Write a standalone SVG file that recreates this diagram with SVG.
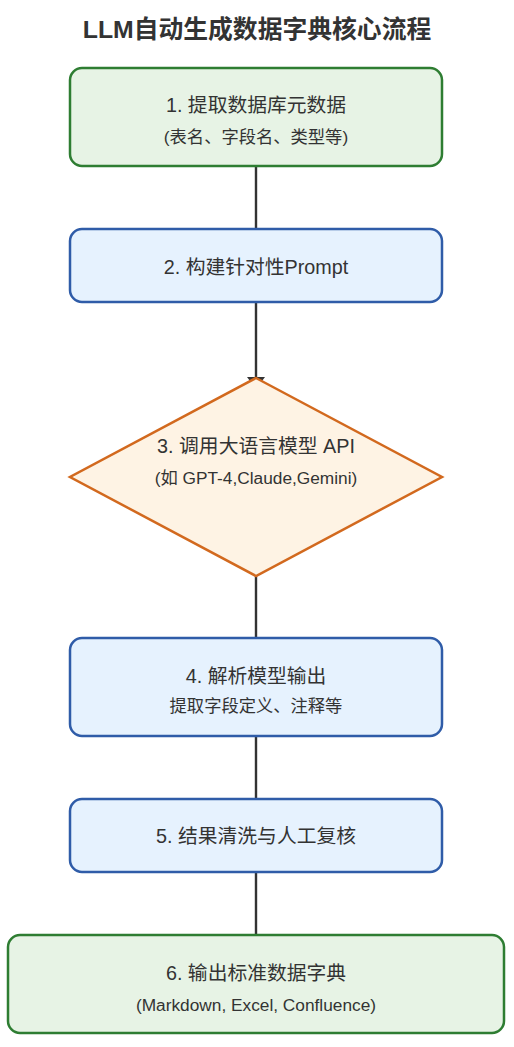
<svg xmlns="http://www.w3.org/2000/svg" width="514" height="1047" viewBox="0 0 514 1047">
<defs>
<marker id="arr" markerWidth="12" markerHeight="18" refX="12" refY="9" orient="auto" markerUnits="userSpaceOnUse"><path d="M0,0 L12,9 L0,18 z" fill="#333"/></marker>
<style>
.t{font-family:"Liberation Sans","Noto Sans CJK SC",sans-serif;fill:#333;text-anchor:middle}
.h{font-size:24.8px;font-weight:bold}
.m{font-size:19.8px}
.s{font-size:17.3px}
.g{fill:#e7f3e5;stroke:#2e7d32;stroke-width:2.5}
.b{fill:#e6f2fe;stroke:#2f5ca8;stroke-width:2.5}
.o{fill:#fef3e4;stroke:#d2691e;stroke-width:2.5}
.c{stroke:#333;stroke-width:2.4;fill:none}
</style>
</defs>
<rect width="514" height="1047" fill="#fff"/>
<text class="t h" x="257" y="38">LLM自动生成数据字典核心流程</text>
<g id="connectors">
<line class="c" x1="256" y1="166" x2="256" y2="242" marker-end="url(#arr)"/>
<line class="c" x1="256" y1="302" x2="256" y2="389" marker-end="url(#arr)"/>
<line class="c" x1="256" y1="576" x2="256" y2="651" marker-end="url(#arr)"/>
<line class="c" x1="256" y1="736" x2="256" y2="812" marker-end="url(#arr)"/>
<line class="c" x1="256" y1="872" x2="256" y2="948" marker-end="url(#arr)"/>
</g>
<g id="n1"><rect class="g" x="70" y="68" width="372" height="98" rx="12"/>
<text class="t m" x="256" y="111.5">1. 提取数据库元数据</text>
<text class="t s" x="256" y="142.5">(表名、字段名、类型等)</text></g>
<g id="n2"><rect class="b" x="70" y="229" width="372" height="73" rx="12"/>
<text class="t m" x="256" y="273.5">2. 构建针对性Prompt</text></g>
<g id="n3"><polygon class="o" points="256,378 442,477 256,576 70,477"/>
<text class="t m" x="256" y="452.5">3. 调用大语言模型 API</text>
<text class="t s" x="256" y="484">(如 GPT-4,Claude,Gemini)</text></g>
<g id="n4"><rect class="b" x="70" y="638" width="372" height="98" rx="12"/>
<text class="t m" x="256" y="682.5">4. 解析模型输出</text>
<text class="t s" x="256" y="712">提取字段定义、注释等</text></g>
<g id="n5"><rect class="b" x="70" y="799" width="372" height="73" rx="12"/>
<text class="t m" x="256" y="842.5">5. 结果清洗与人工复核</text></g>
<g id="n6"><rect class="g" x="8" y="935" width="496" height="98" rx="12"/>
<text class="t m" x="256" y="980">6. 输出标准数据字典</text>
<text class="t s" x="256" y="1011">(Markdown, Excel, Confluence)</text></g>
</svg>
